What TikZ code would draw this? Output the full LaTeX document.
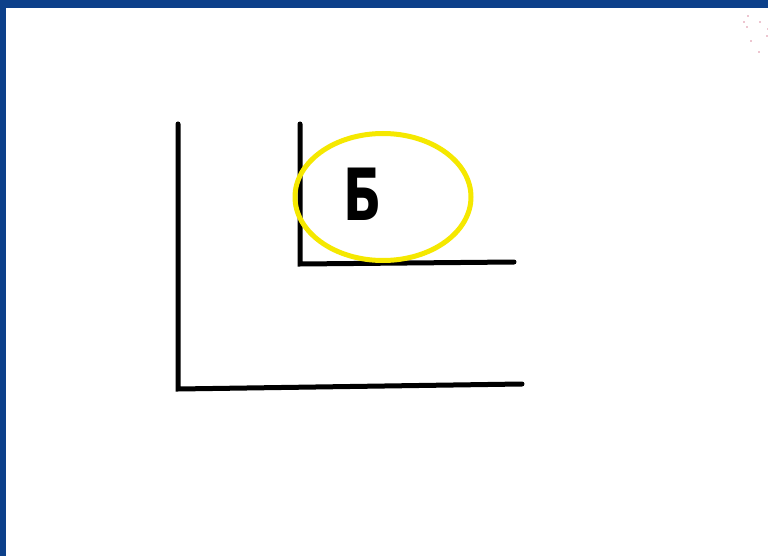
\documentclass[tikz,border=0pt]{standalone}
\usepackage{fontspec}
\newfontfamily\cyrfont{DejaVu Sans}
\usetikzlibrary{positioning,shapes.geometric}
\definecolor{slideblue}{RGB}{12,64,138}
\definecolor{ringyellow}{RGB}{245,232,0}
\definecolor{dotpink}{RGB}{220,140,160}

\begin{document}
\begin{tikzpicture}[x=1pt, y=-1pt,
  stroke/.style={line width=5pt, black, line cap=round},
  ring/.style={ellipse, draw=ringyellow, line width=5pt, minimum width=176pt, minimum height=127pt},
  letter/.style={font=\cyrfont\bfseries\fontsize{72}{72}\selectfont, xscale=0.7, inner sep=0pt}
]
% slide background
\fill[slideblue] (0,0) rectangle (768,556);
\fill[white] (6,8) rectangle (768,556);
\useasboundingbox (0,0) rectangle (768,556);
\foreach \dx/\dy in {748/16,744/22,760/22,747/27,768/29,767/36,751/41,759/52} \fill[dotpink] (\dx,\dy) circle (0.9pt);

% big corner
\coordinate (bigtop) at (178,124);
\coordinate (bigcorner) at (178,389);
\coordinate (bigend) at (522,384);
% small corner
\coordinate (smalltop) at (300,124);
\coordinate (smallcorner) at (300,264);
\coordinate (smallend) at (514,262);

\draw[stroke] (bigtop) -- (bigcorner) -- (bigend);
\draw[stroke] (smalltop) -- (smallcorner) -- (smallend);

\node[ring] (oval) at (383,197) {};
\node[letter] (be) at (363,194) {Б};
\end{tikzpicture}
\end{document}
